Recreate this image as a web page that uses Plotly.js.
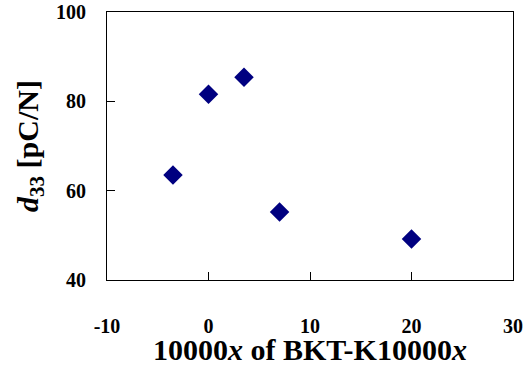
<!DOCTYPE html>
<html>
<head>
<meta charset="utf-8">
<script src="https://cdn.plot.ly/plotly-3.0.1.min.js"></script>
<style>html,body{margin:0;padding:0;background:#fff;}#chart{width:527px;height:366px;}</style>
</head>
<body>
<div id="chart"></div>
<script>
const xValues = [-3.5, 0, 3.5, 7, 20];
const d33Values = [63.5, 81.6, 85.4, 55.2, 49.2];
const xTicks = [-10, 0, 10, 20, 30];
const yTicks = [40, 60, 80, 100];

const font = 'Liberation Serif';

const trace = {
  x: xValues,
  y: d33Values,
  mode: 'markers',
  type: 'scatter',
  marker: {symbol: 'diamond', size: 15, color: '#000080', line: {width: 0}},
  showlegend: false
};

const layout = {
  width: 527, height: 366,
  margin: {l: 107, r: 14, t: 12, b: 86},
  paper_bgcolor: '#fff', plot_bgcolor: '#fff',
  font: {family: font, color: '#000'},
  xaxis: {
    range: [-10, 30], tickvals: xTicks, ticktext: xTicks.map(v => '<b>' + v + '</b>'),
    ticks: 'inside', ticklen: 8, tickwidth: 1, tickcolor: '#000',
    showline: true, mirror: true, linecolor: '#000', linewidth: 1,
    showgrid: false, zeroline: false,
    tickfont: {family: font, size: 20, color: '#000', weight: 'bold'},
    ticklabelstandoff: 28,
    title: {text: '<b>10000<i>x</i> of BKT-K10000<i>x</i></b>', font: {family: font, size: 30, color: '#000', weight: 'bold'}, standoff: 5},
    automargin: false
  },
  yaxis: {
    range: [40, 100], tickvals: yTicks, ticktext: yTicks.map(v => '<b>' + v + '</b>'),
    ticks: 'inside', ticklen: 8, tickwidth: 1, tickcolor: '#000',
    showline: true, mirror: true, linecolor: '#000', linewidth: 1,
    showgrid: false, zeroline: false,
    tickfont: {family: font, size: 20, color: '#000', weight: 'bold'},
    ticklabelstandoff: 16,
    title: {text: '<b><i>d</i><sub>33</sub> [pC/N]</b>', font: {family: font, size: 30, color: '#000', weight: 'bold'}, standoff: 8},
    automargin: false
  }
};

Plotly.newPlot('chart', [trace], layout, {staticPlot: true, displayModeBar: false});
</script>
</body>
</html>
